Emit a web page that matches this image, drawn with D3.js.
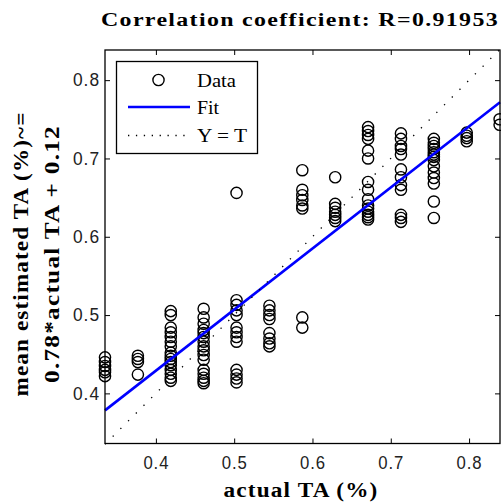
<!DOCTYPE html>
<html>
<head>
<meta charset="utf-8">
<script src="https://cdn.jsdelivr.net/npm/d3@7"></script>
<style>
	html, body { margin: 0; padding: 0; background: #fff; }
	svg { display: block; }
	.serif { font-family: 'Liberation Serif', 'Times New Roman', serif; font-weight: bold; fill: #000; letter-spacing: 1px; }
	.tick text { font-family: 'Liberation Sans', Arial, sans-serif; fill: #222; letter-spacing: 1px; }
</style>
</head>
<body>
<svg id="chart"></svg>
<script>
const width = 501, height = 503;
const margin = { left: 105, right: 1, top: 50, bottom: 59.5 };

// actual TA levels (x) and the estimated TA values measured at each level
const actualTA = [0.335, 0.377, 0.419, 0.461, 0.503, 0.545, 0.587, 0.629, 0.671, 0.713, 0.755, 0.797, 0.839];
const estimatedTA = [
	[0.446, 0.440, 0.435, 0.430, 0.427, 0.422],
	[0.448, 0.444, 0.440, 0.424],
	[0.505, 0.500, 0.484, 0.478, 0.472, 0.466, 0.460, 0.452, 0.448, 0.444, 0.440, 0.436, 0.430, 0.425, 0.420, 0.416],
	[0.508, 0.497, 0.489, 0.481, 0.477, 0.472, 0.466, 0.460, 0.455, 0.449, 0.443, 0.430, 0.425, 0.420, 0.416, 0.413],
	[0.656, 0.519, 0.513, 0.506, 0.500, 0.484, 0.478, 0.472, 0.466, 0.430, 0.424, 0.419, 0.414],
	[0.512, 0.506, 0.500, 0.495, 0.477, 0.470, 0.464, 0.460],
	[0.685, 0.660, 0.653, 0.647, 0.640, 0.636, 0.497, 0.484],
	[0.676, 0.642, 0.637, 0.632, 0.628, 0.624, 0.620],
	[0.740, 0.735, 0.730, 0.725, 0.710, 0.700, 0.670, 0.660, 0.648, 0.640, 0.636, 0.632, 0.628, 0.625, 0.622],
	[0.732, 0.725, 0.716, 0.712, 0.705, 0.686, 0.676, 0.666, 0.660, 0.628, 0.624, 0.619],
	[0.725, 0.720, 0.716, 0.712, 0.708, 0.705, 0.702, 0.698, 0.690, 0.682, 0.675, 0.668, 0.645, 0.624],
	[0.733, 0.729, 0.726, 0.722],
	[0.750, 0.743]
];

// linear fit coefficients (y ~= slope * x + intercept)
const fitSlope = 0.78;
const fitIntercept = 0.117;
const fitRange = [0.335, 0.8395];

const xTicks = [0.4, 0.5, 0.6, 0.7, 0.8];
const yTicks = [0.4, 0.5, 0.6, 0.7, 0.8];
const legendLabels = ['Data', 'Fit', 'Y = T'];
const titleText = 'Correlation coefficient: R=0.91953';
const xLabel = 'actual TA (%)';
const yLabelLines = ['mean estimated TA (%)~=', '0.78*actual TA + 0.12'];

const points = [];
actualTA.forEach((x, i) => {
	estimatedTA[i].forEach(y => points.push({ x: x, y: y }));
});

const xScale = d3.scaleLinear()
	.domain([0.335, 0.8395])
	.range([margin.left, width - margin.right]);

const yScale = d3.scaleLinear()
	.domain([0.336, 0.8385])
	.range([height - margin.bottom, margin.top]);

const svg = d3.select('#chart')
	.attr('width', width)
	.attr('height', height);

const plotLeft = margin.left, plotRight = width - margin.right;
const plotTop = margin.top, plotBottom = height - margin.bottom;

// axes, ticks inside, box on all four sides
const axisStyle = (g) => {
	g.select('.domain').remove();
	g.selectAll('.tick line').attr('stroke', '#000').attr('stroke-width', 1);
};

svg.append('g')
	.attr('transform', `translate(0,${plotBottom})`)
	.call(d3.axisBottom(xScale).tickValues(xTicks).tickSize(-5).tickPadding(13).tickFormat(d3.format('.1f')))
	.call(axisStyle)
	.call(g => g.selectAll('.tick text')
		.attr('font-size', 18)
		.attr('textLength', 26)
		.attr('lengthAdjust', 'spacingAndGlyphs'));

svg.append('g')
	.attr('transform', `translate(0,${plotTop})`)
	.call(d3.axisTop(xScale).tickValues(xTicks).tickSize(-5).tickFormat(''))
	.call(axisStyle);

svg.append('g')
	.attr('transform', `translate(${plotLeft},0)`)
	.call(d3.axisLeft(yScale).tickValues(yTicks).tickSize(-5).tickPadding(5).tickFormat(d3.format('.1f')))
	.call(axisStyle)
	.call(g => g.selectAll('.tick text')
		.attr('font-size', 18)
		.attr('textLength', 27)
		.attr('lengthAdjust', 'spacingAndGlyphs'));

svg.append('g')
	.attr('transform', `translate(${plotRight},0)`)
	.call(d3.axisRight(yScale).tickValues(yTicks).tickSize(-5).tickFormat(''))
	.call(axisStyle);

// data circles
svg.append('g')
	.selectAll('circle')
	.data(points)
	.enter()
	.append('circle')
	.attr('cx', d => xScale(d.x))
	.attr('cy', d => yScale(d.y))
	.attr('r', 5.6)
	.attr('fill', 'none')
	.attr('stroke', '#000')
	.attr('stroke-width', 1.4);

// fit line
const line = d3.line()
	.x(d => xScale(d[0]))
	.y(d => yScale(d[1]));

svg.append('path')
	.datum(fitRange.map(x => [x, fitSlope * x + fitIntercept]))
	.attr('d', line)
	.attr('fill', 'none')
	.attr('stroke', '#0000ff')
	.attr('stroke-width', 2.6);

// Y = T reference
svg.append('path')
	.datum(fitRange.map(x => [x, x]))
	.attr('d', line)
	.attr('fill', 'none')
	.attr('stroke', '#000')
	.attr('stroke-width', 1.3)
	.attr('stroke-dasharray', '1.3,9.6');

// plot frame
svg.append('rect')
	.attr('x', plotLeft)
	.attr('y', plotTop)
	.attr('width', plotRight - plotLeft)
	.attr('height', plotBottom - plotTop)
	.attr('fill', 'none')
	.attr('stroke', '#000')
	.attr('stroke-width', 1.3);

// legend
const legend = svg.append('g');
legend.append('rect')
	.attr('x', 116.5)
	.attr('y', 61.5)
	.attr('width', 141)
	.attr('height', 92)
	.attr('fill', '#fff')
	.attr('stroke', '#000')
	.attr('stroke-width', 1.3);

const rowY = [80, 107, 135.5];
legend.append('circle')
	.attr('cx', 158.5)
	.attr('cy', rowY[0])
	.attr('r', 5.6)
	.attr('fill', 'none')
	.attr('stroke', '#000')
	.attr('stroke-width', 1.4);
legend.append('line')
	.attr('x1', 128).attr('x2', 190)
	.attr('y1', rowY[1]).attr('y2', rowY[1])
	.attr('stroke', '#0000ff')
	.attr('stroke-width', 2.6);
legend.append('line')
	.attr('x1', 128).attr('x2', 190)
	.attr('y1', rowY[2]).attr('y2', rowY[2])
	.attr('stroke', '#000')
	.attr('stroke-width', 1.3)
	.attr('stroke-dasharray', '1.3,6.6');

const legendWidths = [39, 22, 50];
legend.selectAll('.legend-text')
	.data(legendLabels)
	.enter()
	.append('text')
	.attr('class', 'serif')
	.style('font-weight', 'normal')
	.style('letter-spacing', '0px')
	.attr('x', 197)
	.attr('y', (d, i) => rowY[i] + 6.5)
	.attr('font-size', 18)
	.attr('textLength', (d, i) => legendWidths[i])
	.attr('lengthAdjust', 'spacingAndGlyphs')
	.text(d => d);

// title and axis labels
svg.append('text')
	.attr('class', 'serif')
	.attr('x', 300)
	.attr('y', 26)
	.attr('text-anchor', 'middle')
	.attr('font-size', 18)
	.attr('textLength', 398)
	.attr('lengthAdjust', 'spacingAndGlyphs')
	.text(titleText);

svg.append('text')
	.attr('class', 'serif')
	.attr('x', 301)
	.attr('y', 497)
	.attr('text-anchor', 'middle')
	.attr('font-size', 20)
	.attr('textLength', 155)
	.attr('lengthAdjust', 'spacingAndGlyphs')
	.text(xLabel);

const yLabelX = [28, 59];
const yLabelLen = [285, 258];
yLabelLines.forEach((t, i) => {
	svg.append('text')
		.attr('class', 'serif')
		.attr('transform', `translate(${yLabelX[i]},254) rotate(-90)`)
		.attr('text-anchor', 'middle')
		.attr('font-size', 20)
		.attr('textLength', yLabelLen[i])
		.attr('lengthAdjust', 'spacingAndGlyphs')
		.text(t);
});
</script>
</body>
</html>
